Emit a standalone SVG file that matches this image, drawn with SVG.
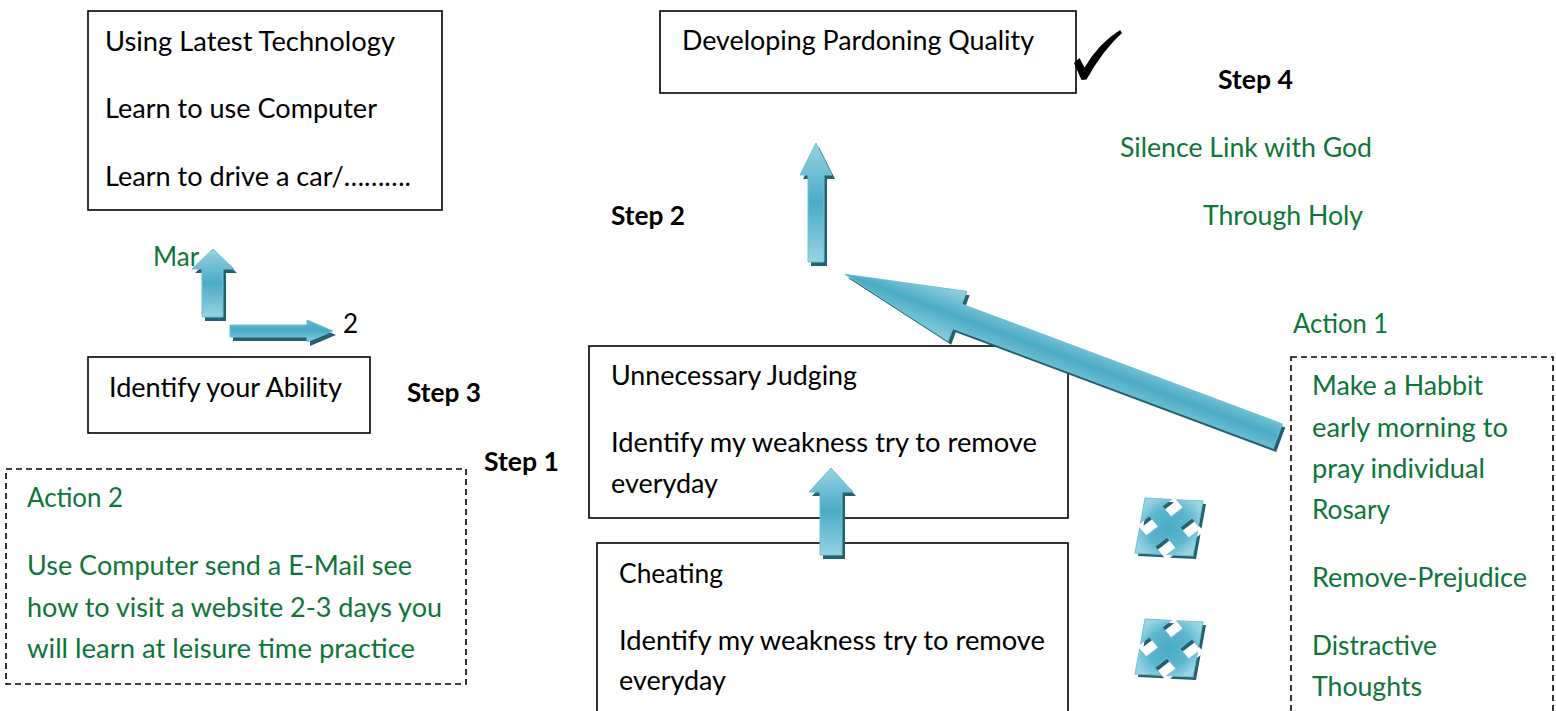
<svg xmlns="http://www.w3.org/2000/svg" width="1556" height="711" viewBox="0 0 1556 711">
<style>
  text { font-family: Lato, "Liberation Sans", sans-serif; font-size: 26px; }
  .blk { fill: #000000; }
  .grn { fill: #0d7539; }
  .bold { font-weight: bold; }
  .box { fill: #ffffff; stroke: #000000; stroke-width: 1.6; }
  .dash { fill: none; stroke: #000000; stroke-width: 1.6; stroke-dasharray: 6 4; }
  .arr { fill: url(#gv); stroke: #6cc0d6; stroke-width: 1; }
  .shd { fill: #24606f; }
</style>
<defs>
  <linearGradient id="gv" x1="0" y1="0" x2="0" y2="1">
    <stop offset="0" stop-color="#97d3e2"/>
    <stop offset="0.5" stop-color="#4aabc5"/>
    <stop offset="1" stop-color="#97d3e2"/>
  </linearGradient>
  <linearGradient id="gh" x1="0" y1="0" x2="0" y2="1">
    <stop offset="0" stop-color="#5db5cc"/>
    <stop offset="0.5" stop-color="#4aabc5"/>
    <stop offset="1" stop-color="#8ccfdf"/>
  </linearGradient>
  <linearGradient id="gbig" gradientUnits="userSpaceOnUse" x1="0" y1="-27" x2="0" y2="27">
    <stop offset="0" stop-color="#9ad4e3"/>
    <stop offset="0.5" stop-color="#4aabc5"/>
    <stop offset="1" stop-color="#8dcfdf"/>
  </linearGradient>
  <radialGradient id="gx" cx="0.5" cy="0.5" r="0.6">
    <stop offset="0" stop-color="#4aabc5"/>
    <stop offset="0.6" stop-color="#5cb6ce"/>
    <stop offset="1" stop-color="#9ad4e3"/>
  </radialGradient>
  <path id="quad" d="M0,0 L27,0 L19,8 L30,19 L41,8 L33,0 L60,0 L60,27 L52,19 L41,30 L52,41 L60,33 L60,60 L33,60 L41,52 L30,41 L19,52 L27,60 L0,60 L0,33 L8,41 L19,30 L8,19 L0,27 Z"/>
</defs>
<rect width="1556" height="711" fill="#ffffff"/>

<g id="node-technology">
  <rect class="box" x="88" y="11" width="354" height="199"/>
  <text class="blk" x="105" y="51" textLength="290" lengthAdjust="spacingAndGlyphs">Using Latest Technology</text>
  <text class="blk" x="105" y="118" textLength="272" lengthAdjust="spacingAndGlyphs">Learn to use Computer</text>
  <text class="blk" x="105" y="186" textLength="306" lengthAdjust="spacingAndGlyphs">Learn to drive a car/……….</text>
</g>

<g id="node-pardoning">
  <rect class="box" x="660" y="11" width="416" height="82"/>
  <text class="blk" x="682" y="50" textLength="352" lengthAdjust="spacingAndGlyphs">Developing Pardoning Quality</text>
  <path d="M1074,63 L1079.5,58 L1084.5,67.5 Q1099,43 1120,30 L1122,33 Q1103,50 1086.5,79.5 L1081.5,80 Z" fill="#000000"/>
</g>

<g id="label-step4"><text class="blk bold" x="1218" y="89" textLength="75" lengthAdjust="spacingAndGlyphs">Step 4</text></g>
<g id="label-step2"><text class="blk bold" x="611" y="225" textLength="74" lengthAdjust="spacingAndGlyphs">Step 2</text></g>
<g id="label-step3"><text class="blk bold" x="407" y="402" textLength="74" lengthAdjust="spacingAndGlyphs">Step 3</text></g>
<g id="label-step1"><text class="blk bold" x="484" y="471" textLength="75" lengthAdjust="spacingAndGlyphs">Step 1</text></g>

<g id="label-silence">
  <text class="grn" x="1120" y="157" textLength="252" lengthAdjust="spacingAndGlyphs">Silence Link with God</text>
  <text class="grn" x="1203" y="225" textLength="160" lengthAdjust="spacingAndGlyphs">Through Holy</text>
</g>

<g id="label-mar"><text class="grn" x="153" y="266">Mar</text></g>
<g id="label-2"><text class="blk" x="343" y="333">2</text></g>

<g id="node-ability">
  <rect class="box" x="88" y="357" width="282" height="76"/>
  <text class="blk" x="109" y="397" textLength="233" lengthAdjust="spacingAndGlyphs">Identify your Ability</text>
</g>

<g id="node-action2">
  <rect class="dash" x="6" y="469" width="460" height="215"/>
  <text class="grn" x="27" y="507" textLength="96" lengthAdjust="spacingAndGlyphs">Action 2</text>
  <text class="grn" x="27" y="575" textLength="385" lengthAdjust="spacingAndGlyphs">Use Computer send a E-Mail see</text>
  <text class="grn" x="27" y="617" textLength="415" lengthAdjust="spacingAndGlyphs">how to visit a website 2-3 days you</text>
  <text class="grn" x="27" y="658" textLength="388" lengthAdjust="spacingAndGlyphs">will learn at leisure time practice</text>
</g>

<g id="node-judging">
  <rect class="box" x="589" y="346" width="479" height="172"/>
  <text class="blk" x="611" y="385" textLength="246" lengthAdjust="spacingAndGlyphs">Unnecessary Judging</text>
  <text class="blk" x="611" y="452" textLength="426" lengthAdjust="spacingAndGlyphs">Identify my weakness try to remove</text>
  <text class="blk" x="611" y="493" textLength="107" lengthAdjust="spacingAndGlyphs">everyday</text>
</g>

<g id="node-cheating">
  <rect class="box" x="597" y="543" width="471" height="180"/>
  <text class="blk" x="619" y="583" textLength="104" lengthAdjust="spacingAndGlyphs">Cheating</text>
  <text class="blk" x="619" y="650" textLength="426" lengthAdjust="spacingAndGlyphs">Identify my weakness try to remove</text>
  <text class="blk" x="619" y="690" textLength="107" lengthAdjust="spacingAndGlyphs">everyday</text>
</g>

<g id="node-action1">
  <text class="grn" x="1293" y="333" textLength="95" lengthAdjust="spacingAndGlyphs">Action 1</text>
  <rect class="dash" x="1291" y="357" width="262" height="370"/>
  <text class="grn" x="1312" y="395" textLength="171" lengthAdjust="spacingAndGlyphs">Make a Habbit</text>
  <text class="grn" x="1312" y="437" textLength="196" lengthAdjust="spacingAndGlyphs">early morning to</text>
  <text class="grn" x="1312" y="478" textLength="173" lengthAdjust="spacingAndGlyphs">pray individual</text>
  <text class="grn" x="1312" y="519" textLength="78" lengthAdjust="spacingAndGlyphs">Rosary</text>
  <text class="grn" x="1312" y="587" textLength="215" lengthAdjust="spacingAndGlyphs">Remove-Prejudice</text>
  <text class="grn" x="1312" y="655" textLength="125" lengthAdjust="spacingAndGlyphs">Distractive</text>
  <text class="grn" x="1312" y="696" textLength="110" lengthAdjust="spacingAndGlyphs">Thoughts</text>
</g>

<g id="connectors">
  <g id="arrow-step2">
    <path class="shd" transform="translate(3,4)" d="M816,143 L832,175 L824,175 L824,262 L808,262 L808,175 L800,175 Z"/>
    <path class="arr" d="M816,143 L832,175 L824,175 L824,262 L808,262 L808,175 L800,175 Z"/>
  </g>
  <g id="arrow-mar">
    <path class="shd" transform="translate(3,4)" d="M213,249 L234,269 L223,269 L223,317 L202,317 L202,269 L192,269 Z"/>
    <path class="arr" d="M213,249 L234,269 L223,269 L223,317 L202,317 L202,269 L192,269 Z"/>
  </g>
  <g id="arrow-right">
    <path class="shd" transform="translate(3,4)" d="M333,331 L307,320 L307,325 L230,325 L230,337 L307,337 L307,342 Z"/>
    <path class="arr" style="fill:url(#gh)" d="M333,331 L307,320 L307,325 L230,325 L230,337 L307,337 L307,342 Z"/>
  </g>
  <g id="arrow-cheating">
    <path class="shd" transform="translate(3,4)" d="M831,468 L853,492 L842,492 L842,555 L820,555 L820,492 L809,492 Z"/>
    <path class="arr" d="M831,468 L853,492 L842,492 L842,555 L820,555 L820,492 L809,492 Z"/>
  </g>
  <g id="arrow-big">
    <path class="shd" transform="translate(848,278) rotate(20.5)" d="M0,0 L120,-26.5 L120,-13 L462,-13 L462,13 L120,13 L120,26.5 Z"/>
    <path transform="translate(845,274.3) rotate(20.5)" fill="url(#gbig)" stroke="#6cc0d6" stroke-width="1" d="M0,0 L120,-26.5 L120,-13 L462,-13 L462,13 L120,13 L120,26.5 Z"/>
  </g>
  <g id="quad-1">
    <use href="#quad" class="shd" transform="translate(3,3) matrix(0.967,0.05,-0.167,0.917,1145,498)"/>
    <use href="#quad" fill="url(#gx)" stroke="#6cc0d6" stroke-width="1" transform="matrix(0.967,0.05,-0.167,0.917,1145,498)"/>
  </g>
  <g id="quad-2">
    <use href="#quad" class="shd" transform="translate(3,3) matrix(0.967,0.05,-0.167,0.917,1145,619)"/>
    <use href="#quad" fill="url(#gx)" stroke="#6cc0d6" stroke-width="1" transform="matrix(0.967,0.05,-0.167,0.917,1145,619)"/>
  </g>
</g>
</svg>
